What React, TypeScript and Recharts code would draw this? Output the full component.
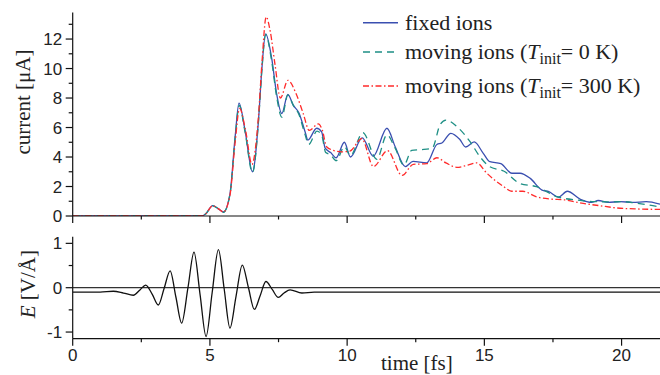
import React from 'react';
import { LineChart, Line, XAxis, YAxis, ReferenceLine } from 'recharts';

// ---------- tick values ----------
const timeTicks = [0, 2.5, 5, 7.5, 10, 12.5, 15, 17.5, 20];
const timeLabels = [0, 5, 10, 15, 20];
const currentTicks = [0, 1, 2, 3, 4, 5, 6, 7, 8, 9, 10, 11, 12, 13];
const currentLabels = [0, 2, 4, 6, 8, 10, 12];
const fieldTicks = [-1, -0.5, 0, 0.5, 1];
const fieldLabels = [-1, 0, 1];

// ---------- fixed ions (blue, solid) ----------
const fixedTime = [0, 4.7, 4.85, 5.1, 5.3, 5.49, 5.73, 5.92, 6.06, 6.28, 6.55, 6.77, 6.89, 7.03, 7.25, 7.43, 7.62, 7.84, 8.04, 8.24, 8.47, 8.57, 8.89, 9.07, 9.2, 9.4, 9.6, 9.9, 10.12, 10.55, 10.95, 11.45, 11.75, 12.12, 12.4, 12.9, 13.27, 13.45, 13.78, 14.1, 14.32, 14.63, 14.96, 15.2, 15.6, 16.0, 16.3, 16.67, 17.1, 17.35, 17.7, 18.02, 18.5, 18.9, 19.15, 19.5, 19.95, 20.4, 20.9, 21.4];
const fixedCurrent = [0, 0, 0.15, 0.7, 0.5, 0.27, 1.5, 5.4, 7.65, 5.8, 3.0, 6.5, 9.9, 12.35, 10.7, 8.3, 6.95, 8.25, 7.5, 7.0, 5.7, 5.15, 5.95, 5.7, 4.6, 4.3, 3.95, 5.0, 4.0, 5.3, 4.05, 5.95, 4.7, 3.35, 3.7, 3.6, 4.85, 4.95, 5.6, 5.2, 4.68, 5.02, 4.25, 3.68, 3.55, 2.9, 2.9, 2.55, 1.76, 1.65, 1.28, 1.68, 1.13, 0.92, 1.05, 0.92, 0.98, 0.92, 0.97, 0.8];

// ---------- moving ions, T_init = 0 K (teal, dashed) ----------
const cold0Time = [0, 4.7, 4.85, 5.1, 5.3, 5.49, 5.73, 5.92, 6.07, 6.28, 6.55, 6.77, 6.89, 7.03, 7.25, 7.43, 7.62, 7.84, 8.04, 8.24, 8.47, 8.6, 8.9, 9.07, 9.22, 9.4, 9.6, 9.9, 10.12, 10.57, 11.08, 11.45, 11.75, 12.07, 12.35, 12.7, 13.1, 13.39, 13.6, 14.0, 14.48, 14.84, 15.2, 15.7, 16.3, 16.9, 17.64, 18.4, 19.0, 19.6, 20.1, 20.5, 21.0, 21.4];
const cold0Current = [0, 0, 0.15, 0.68, 0.5, 0.25, 1.45, 5.3, 7.5, 5.7, 2.95, 6.4, 9.8, 12.3, 10.5, 8.1, 6.7, 8.2, 7.5, 6.9, 5.5, 4.85, 5.75, 5.5, 4.3, 4.15, 3.75, 4.7, 4.1, 5.65, 3.85, 5.5, 4.6, 3.45, 4.45, 4.5, 4.6, 6.2, 6.5, 6.06, 5.04, 4.02, 3.34, 3.05, 2.2, 1.99, 1.31, 1.08, 0.98, 0.96, 0.97, 0.88, 0.74, 0.6];

// ---------- moving ions, T_init = 300 K (red, dash-dot) ----------
const warmTime = [0, 4.7, 4.85, 5.1, 5.3, 5.49, 5.73, 5.92, 6.08, 6.3, 6.53, 6.77, 6.9, 7.05, 7.2, 7.37, 7.57, 7.84, 8.16, 8.4, 8.62, 8.95, 9.1, 9.25, 9.5, 9.8, 10.1, 10.53, 10.96, 11.47, 12.0, 12.41, 12.9, 13.27, 13.6, 14.0, 14.4, 14.72, 15.09, 15.7, 16.0, 16.4, 16.9, 17.4, 17.9, 18.6, 19.2, 19.8, 20.5, 21.4];
const warmCurrent = [0, 0, 0.15, 0.7, 0.5, 0.27, 1.4, 5.0, 7.3, 5.8, 3.5, 6.8, 10.5, 13.5, 12.5, 10.3, 8.0, 9.2, 8.2, 6.95, 5.8, 6.25, 5.8, 4.7, 4.45, 4.35, 4.4, 5.25, 3.35, 4.43, 2.75, 3.5, 3.55, 3.95, 3.6, 3.3, 3.45, 3.6, 2.9, 2.0, 1.68, 1.68, 1.3, 1.15, 1.1, 0.85, 0.7, 0.55, 0.48, 0.45];

// ---------- laser field E ----------
const fieldTime = [0, 1.0, 1.48, 1.85, 2.21, 2.45, 2.66, 2.9, 3.12, 3.33, 3.55, 3.76, 3.97, 4.2, 4.42, 4.64, 4.86, 5.08, 5.31, 5.52, 5.73, 5.95, 6.18, 6.4, 6.62, 6.83, 7.04, 7.27, 7.49, 7.7, 7.92, 8.35, 8.8, 21.4];
const fieldValue = [-0.1, -0.1, -0.08, -0.12, -0.17, -0.05, 0.06, -0.15, -0.39, -0.02, 0.38, -0.21, -0.8, 0.0, 0.8, -0.15, -1.1, -0.12, 0.86, -0.03, -0.91, -0.2, 0.51, 0.01, -0.49, -0.18, 0.14, -0.04, -0.22, -0.12, -0.05, -0.12, -0.1, -0.1];

const toPoints = (ts: number[], vs: number[]) => ts.map((t, i) => ({ t, v: vs[i] }));
const fixedData = toPoints(fixedTime, fixedCurrent);
const cold0Data = toPoints(cold0Time, cold0Current);
const warmData = toPoints(warmTime, warmCurrent);
const fieldData = toPoints(fieldTime, fieldValue);

const BLUE = '#3a4fb0';
const TEAL = '#1e8f85';
const RED = '#ff2b2b';

const series = [
  { key: 'fixed', data: fixedData, color: BLUE, dash: undefined as string | undefined, label: 'fixed ions', temp: '' },
  { key: 'cold', data: cold0Data, color: TEAL, dash: '7 5', label: 'moving ions (', temp: '= 0 K)' },
  { key: 'warm', data: warmData, color: RED, dash: '6 2.5 1.5 2.5', label: 'moving ions (', temp: '= 300 K)' },
];

const SANS = '"Liberation Sans", Arial, sans-serif';
const SERIF = '"Liberation Serif", "Times New Roman", serif';
const AXIS = '#111';

const makeXTick = (labels: number[] | null) => (p: any) => {
  const v = p.payload.value;
  const major = timeLabels.includes(v);
  const len = major ? 7 : 3.5;
  return (
    <g>
      <line x1={p.x} x2={p.x} y1={p.y} y2={p.y + len} stroke={AXIS} strokeWidth={1.2} />
      {labels && labels.includes(v) ? (
        <text x={p.x} y={p.y + 22} textAnchor="middle" fontFamily={SANS} fontSize={17} fill="#222">{v}</text>
      ) : null}
    </g>
  );
};

const makeYTick = (labels: number[]) => (p: any) => {
  const v = p.payload.value;
  const major = labels.includes(v);
  const len = major ? 7 : 4;
  return (
    <g>
      <line x1={p.x - len} x2={p.x} y1={p.y} y2={p.y} stroke={AXIS} strokeWidth={1.2} />
      {major ? (
        <text x={p.x - 10.5} y={p.y} dy="0.36em" textAnchor="end" fontFamily={SANS} fontSize={17} fill="#222">{v}</text>
      ) : null}
    </g>
  );
};

const CurrentTitle = (props: any) => {
  const vb = props.viewBox || {};
  const cx = vb.x + 9.5;
  const cy = vb.y + vb.height * 0.44;
  return (
    <text x={cx} y={cy} transform={`rotate(-90 ${cx} ${cy})`} dy="0.35em" textAnchor="middle" fontFamily={SERIF} fontSize={21} fill="#222">
      current [μA]
    </text>
  );
};

const FieldTitle = (props: any) => {
  const vb = props.viewBox || {};
  const cx = vb.x + 15;
  const cy = vb.y + vb.height * 0.465;
  return (
    <text x={cx} y={cy} transform={`rotate(-90 ${cx} ${cy})`} dy="0.35em" textAnchor="middle" fontFamily={SERIF} fontSize={21} fill="#222">
      <tspan fontStyle="italic">E</tspan> [V/Å]
    </text>
  );
};

const TimeTitle = (props: any) => {
  const vb = props.viewBox || {};
  const cx = vb.x + vb.width * 0.586;
  const cy = vb.y + 31;
  return (
    <text x={cx} y={cy} textAnchor="middle" fontFamily={SERIF} fontSize={21} fill="#222">
      time [fs]
    </text>
  );
};

const LegendOverlay = () => {
  const rows = [22.7, 52, 86];
  return (
    <svg width={660} height={110} style={{ position: 'absolute', left: 0, top: 0, pointerEvents: 'none' }}>
      {series.map((s, i) => (
        <g key={s.key}>
          <line x1={363} x2={398} y1={rows[i]} y2={rows[i]} stroke={s.color} strokeWidth={1.4} strokeDasharray={s.dash} />
          <text x={405} y={rows[i] + 7} fontFamily={SERIF} fontSize={22} fill="#222">
            {s.label}
            {s.temp ? (
              <>
                <tspan fontStyle="italic">T</tspan>
                <tspan fontSize={16} dy={5}>init</tspan>
                <tspan dy={-5}>{s.temp}</tspan>
              </>
            ) : null}
          </text>
        </g>
      ))}
    </svg>
  );
};

export default function App() {
  return (
    <div style={{ position: 'absolute', left: 0, top: 0, width: 660, height: 375, background: '#fff', overflow: 'hidden' }}>
      <div style={{ position: 'absolute', left: 0, top: 0 }}>
        <LineChart width={660} height={232} margin={{ top: 12.5, right: 0, bottom: 0, left: 12.7 }}>
          <XAxis
            dataKey="t"
            type="number"
            domain={[0, 21.4]}
            ticks={timeTicks}
            interval={0}
            allowDataOverflow
            height={16}
            tickSize={0}
            tickMargin={0}
            tickLine={false}
            axisLine={{ stroke: AXIS, strokeWidth: 1.2 }}
            tick={makeXTick(null)}
          />
          <YAxis
            type="number"
            domain={[0, 13.8]}
            ticks={currentTicks}
            interval={0}
            allowDataOverflow
            width={60}
            tickSize={0}
            tickMargin={0}
            tickLine={false}
            axisLine={{ stroke: AXIS, strokeWidth: 1.2 }}
            tick={makeYTick(currentLabels)}
            label={{ content: (p: any) => <CurrentTitle {...p} /> }}
          />
          {series.map((s) => (
            <Line
              key={s.key}
              data={s.data}
              dataKey="v"
              type="monotone"
              stroke={s.color}
              strokeWidth={1.3}
              strokeDasharray={s.dash}
              dot={false}
              activeDot={false}
              isAnimationActive={false}
            />
          ))}
        </LineChart>
      </div>
      <div style={{ position: 'absolute', left: 0, top: 230 }}>
        <LineChart width={660} height={145} margin={{ top: 6.7, right: 0, bottom: 0, left: 12.7 }}>
          <XAxis
            dataKey="t"
            type="number"
            domain={[0, 21.4]}
            ticks={timeTicks}
            interval={0}
            allowDataOverflow
            height={36.3}
            tickSize={0}
            tickMargin={0}
            tickLine={false}
            axisLine={{ stroke: AXIS, strokeWidth: 1.2 }}
            tick={makeXTick(timeLabels)}
            label={{ content: (p: any) => <TimeTitle {...p} /> }}
          />
          <YAxis
            type="number"
            domain={[-1.15, 1.15]}
            ticks={fieldTicks}
            interval={0}
            allowDataOverflow
            width={60}
            tickSize={0}
            tickMargin={0}
            tickLine={false}
            axisLine={{ stroke: AXIS, strokeWidth: 1.2 }}
            tick={makeYTick(fieldLabels)}
            label={{ content: (p: any) => <FieldTitle {...p} /> }}
          />
          <ReferenceLine y={0} stroke="#333" strokeWidth={1.2} />
          <Line
            data={fieldData}
            dataKey="v"
            type="monotone"
            stroke="#111"
            strokeWidth={1.3}
            dot={false}
            activeDot={false}
            isAnimationActive={false}
          />
        </LineChart>
      </div>
      <LegendOverlay />
    </div>
  );
}
